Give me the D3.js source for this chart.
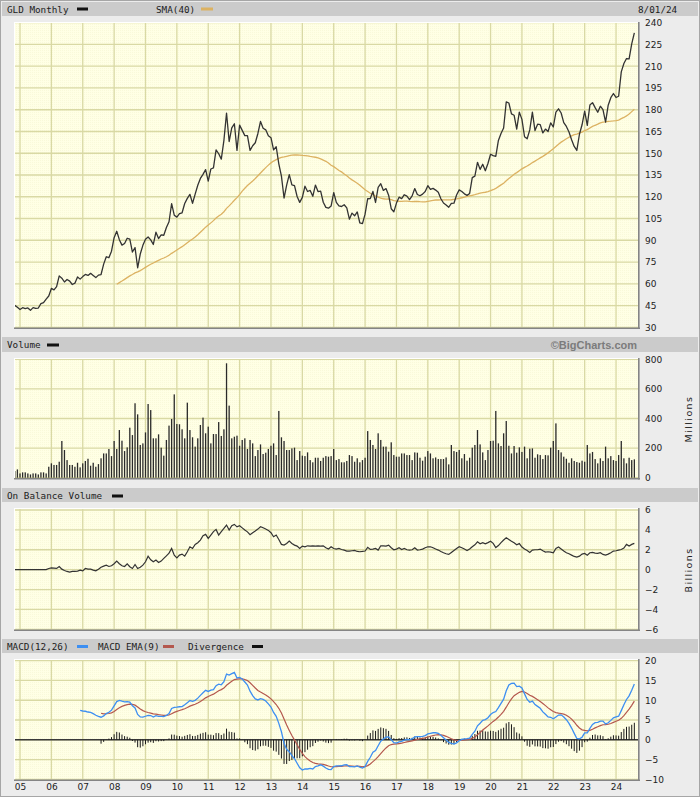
<!DOCTYPE html>
<html><head><meta charset="utf-8">
<script src="https://cdn.jsdelivr.net/npm/d3@7/dist/d3.min.js"></script>
<style>html,body{margin:0;padding:0;background:#ececec}svg{display:block}</style>
</head><body>
<svg id="chart" width="700" height="797"></svg>
<script>
// ---- DATA (monthly, starting Nov 2004) ----
const startYear = 2004, startMonth = 10; // 0-based month -> November
const prices = [
  45.12, 43.80,
  42.22, 43.52, 42.82, 43.35, 41.70, 43.56, 42.98, 43.28, 46.28, 46.97, 49.37, 51.58,
  56.80, 55.81, 58.06, 65.46, 63.84, 61.23, 62.94, 61.86, 59.50, 60.40, 64.75, 63.21,
  64.95, 66.45, 65.74, 67.18, 65.71, 64.26, 65.97, 66.38, 73.56, 78.65, 77.97, 82.46,
  91.75, 96.21, 90.41, 86.67, 87.82, 91.40, 90.72, 81.89, 84.92, 71.03, 80.53, 86.52,
  90.68, 92.27, 90.27, 87.12, 95.58, 91.18, 93.66, 93.46, 98.85, 102.76, 115.21, 107.31,
  105.96, 108.35, 108.95, 115.36, 118.88, 121.68, 115.49, 121.77, 127.91, 132.62, 135.42, 138.72,
  130.82, 139.13, 139.86, 152.37, 149.64, 145.96, 158.91, 177.72, 158.07, 167.48, 170.30, 151.99,
  169.40, 165.74, 162.12, 162.19, 151.98, 155.18, 157.25, 163.64, 171.89, 167.25, 166.12, 162.02,
  160.73, 152.32, 154.46, 142.73, 134.25, 119.11, 127.98, 135.27, 128.18, 127.74, 120.19, 116.12,
  119.57, 127.25, 123.61, 124.34, 120.29, 128.04, 123.61, 123.86, 116.21, 112.66, 112.11, 113.58,
  122.91, 116.16, 113.65, 113.29, 114.51, 112.37, 104.55, 108.73, 106.86, 109.51, 101.92, 101.46,
  107.98, 118.64, 118.81, 123.65, 116.06, 126.47, 128.98, 124.37, 125.64, 121.07, 111.75, 109.61,
  115.62, 119.70, 118.72, 121.40, 120.47, 118.02, 120.60, 125.63, 121.58, 120.67, 121.83, 123.65,
  127.64, 125.06, 125.79, 124.59, 123.09, 118.65, 115.71, 114.37, 112.76, 115.41, 115.54, 121.25,
  124.75, 123.65, 122.01, 120.95, 122.31, 133.20, 134.20, 143.76, 138.87, 142.41, 137.93, 142.90,
  149.33, 148.38, 147.84, 158.80, 163.66, 167.37, 185.43, 184.65, 177.12, 176.22, 166.67, 178.36,
  173.34, 161.38, 159.96, 166.09, 178.38, 165.63, 170.04, 169.70, 164.00, 166.65, 165.00, 170.96,
  168.09, 178.38, 180.65, 177.73, 171.14, 168.46, 164.68, 159.27, 154.67, 151.91, 163.10, 169.64,
  179.10, 169.16, 183.22, 184.91, 181.45, 178.27, 182.41, 180.00, 171.45, 183.12, 188.31, 191.17,
  188.45, 189.31, 206.06, 211.87, 215.30, 215.01, 225.34, 233.00
];
// volume, millions of shares
const volumes = [
  45, 56,
  29, 36, 36, 29, 22, 29, 29, 22, 36, 36, 29, 74,
  97, 86, 86, 108, 248, 187, 119, 86, 86, 74, 101, 70,
  97, 113, 128, 81, 101, 74, 92, 131, 164, 164, 194, 146,
  248, 194, 322, 250, 180, 205, 338, 288, 503, 428, 221, 232,
  306, 498, 457, 266, 266, 293, 203, 149, 255, 352, 397, 563,
  363, 361, 327, 266, 507, 322, 273, 210, 266, 356, 406, 300,
  345, 232, 295, 295, 376, 282, 327, 773, 487, 266, 277, 284,
  216, 255, 266, 194, 255, 232, 146, 187, 225, 160, 169, 194,
  216, 232, 153, 451, 273, 248, 187, 187, 198, 203, 119, 180,
  149, 146, 171, 119, 104, 135, 135, 113, 135, 146, 142, 146,
  194, 119, 126, 104, 104, 113, 153, 146, 108, 131, 104, 119,
  135, 315, 255, 221, 194, 300, 255, 210, 210, 176, 239, 153,
  142, 142, 164, 164, 153, 153, 119, 171, 169, 135, 115, 142,
  180, 164, 131, 137, 126, 126, 126, 137, 90, 221, 180, 174,
  187, 131, 160, 115, 135, 203, 221, 322, 225, 171, 119, 187,
  248, 250, 451, 232, 214, 300, 383, 216, 164, 214, 169, 205,
  174, 210, 131, 196, 198, 135, 158, 153, 126, 153, 151, 203,
  248, 367, 187, 171, 142, 128, 101, 131, 113, 106, 101, 115,
  108, 221, 164, 174, 126, 97, 131, 113, 210, 131, 146, 119,
  113, 153, 248, 131, 97, 135, 119, 124
];
// on balance volume, billions
const obv = [
  0, 0,
  0, 0, 0, 0, 0, 0, 0, 0, 0, 0, 0, 0.12,
  0.18, 0.15, 0.12, 0.32, 0.05, -0.08, -0.18, -0.25, -0.18, -0.18, -0.15, -0.05,
  -0.12, 0.12, 0.05, 0.05, -0.05, -0.12, 0.05, 0.25, 0.35, 0.45, 0.32, 0.39,
  0.59, 0.86, 0.59, 0.39, 0.32, 0.59, 0.29, 0.12, 0.52, 0.12, 0.25, 0.45,
  0.79, 1.36, 0.99, 0.79, 0.96, 0.72, 0.86, 1.13, 1.39, 1.66, 2.13, 1.46,
  1.19, 1.46, 1.56, 1.36, 1.80, 2.30, 2.13, 2.54, 2.71, 2.97, 3.41, 3.55,
  3.14, 3.48, 3.82, 4.05, 3.48, 3.82, 4.15, 4.49, 3.98, 4.42, 4.55, 4.30,
  4.42, 4.20, 3.98, 3.80, 3.52, 3.71, 3.88, 4.08, 4.32, 4.22, 4.08, 3.95,
  3.71, 3.31, 3.48, 3.04, 2.54, 2.47, 2.64, 2.87, 2.64, 2.47, 2.37, 2.13,
  2.37, 2.30, 2.40, 2.37, 2.40, 2.37, 2.40, 2.37, 2.40, 2.20, 2.07, 2.30,
  2.13, 2.07, 2.13, 2.03, 1.97, 1.87, 1.87, 1.90, 1.93, 1.83, 1.80, 1.83,
  1.87, 2.24, 2.03, 2.07, 2.13, 1.97, 2.40, 2.40, 2.37, 2.47, 2.20, 2.00,
  2.07, 2.20, 2.03, 2.13, 2.00, 1.97, 2.00, 2.20, 1.97, 2.00, 2.07, 2.20,
  2.30, 2.30, 2.20, 2.07, 1.97, 1.83, 1.70, 1.60, 1.53, 1.73, 1.93, 2.13,
  2.30, 2.20, 2.07, 1.93, 2.07, 2.30, 2.50, 2.80, 2.60, 2.72, 2.60, 2.72,
  2.85, 2.64, 2.22, 2.42, 2.72, 2.98, 3.20, 3.04, 2.85, 2.70, 2.50, 2.62,
  2.27, 2.07, 1.93, 1.73, 1.97, 2.00, 2.00, 2.07, 1.90, 1.76, 1.80, 1.76,
  1.70, 2.13, 2.27, 2.07, 1.87, 1.70, 1.60, 1.46, 1.33, 1.26, 1.36, 1.56,
  1.63, 1.46, 1.70, 1.73, 1.66, 1.63, 1.70, 1.53, 1.46, 1.56, 1.70, 1.87,
  1.90, 1.97, 2.03, 2.17, 2.54, 2.37, 2.54, 2.64
];
const priceTicks = [30, 45, 60, 75, 90, 105, 120, 135, 150, 165, 180, 195, 210, 225, 240];
const volumeTicks = [0, 200, 400, 600, 800];
const obvTicks = [-6, -4, -2, 0, 2, 4, 6];
const macdTicks = [-10, -5, 0, 5, 10, 15, 20];
const yearLabels = ["05","06","07","08","09","10","11","12","13","14","15","16","17","18","19","20","21","22","23","24"];
const smaPeriod = 40, macdFast = 12, macdSlow = 26, macdSig = 9;

// ---- derived indicators (computed from the price series) ----
function smaCalc(a, n){ return a.map((d,i)=> i < n-1 ? null : d3.mean(a.slice(i-n+1, i+1))); }
function emaCalc(a, n){
  const out = a.map(()=>null); const k = 2/(n+1);
  const first = a.findIndex(v=>v!=null); if (first < 0) return out;
  const s = first + n - 1; if (s >= a.length) return out;
  out[s] = d3.mean(a.slice(first, s+1));
  for (let i = s+1; i < a.length; i++) out[i] = a[i]*k + out[i-1]*(1-k);
  return out;
}
const sma = smaCalc(prices, smaPeriod);
const emaF = emaCalc(prices, macdFast), emaS = emaCalc(prices, macdSlow);
const macd = prices.map((d,i)=> emaS[i]==null ? null : emaF[i]-emaS[i]);
const signal = emaCalc(macd, macdSig);
const diverg = macd.map((d,i)=> signal[i]==null ? null : d - signal[i]);

// ---- layout ----
const W = 700, H = 797, L = 14, R = 638;
const svg = d3.select("#chart");
svg.append("rect").attr("width", W).attr("height", H).attr("fill", "#ececec");
svg.append("rect").attr("x",0.5).attr("y",0.5).attr("width",W-1).attr("height",H-1)
   .attr("fill","none").attr("stroke","#a6a6a6");

const defs = svg.append("defs");
const pat = defs.append("pattern").attr("id","tex").attr("width",2).attr("height",2)
  .attr("patternUnits","userSpaceOnUse");
pat.append("rect").attr("width",2).attr("height",2).attr("fill","#ffffe5");
pat.append("rect").attr("width",1).attr("height",1).attr("fill","#f9f9da");

const tIdx = i => i + (startYear-2005)*12 + startMonth; // months since Jan 2005
const x = d3.scaleLinear().domain([-2.3, 236.4]).range([L, R]);
const yearTs = d3.range(0, 20).map(k => k*12);

const panels = {
  price: {hdr:[2,16],   top:22,  bot:327.5, dom:[30,240], rng:[327.3,22.7], ticks:priceTicks},
  vol:   {hdr:[337,352],top:358, bot:478,   dom:[0,800],  rng:[477.7,359.3], ticks:volumeTicks},
  obv:   {hdr:[488,502],top:508, bot:629.5, dom:[-6,6],   rng:[629.3,510],   ticks:obvTicks},
  macd:  {hdr:[639,653],top:659, bot:779.5, dom:[-10,20], rng:[779.3,660.7], ticks:macdTicks}
};
const gridC = "#d9d9a4";
Object.entries(panels).forEach(([k,p])=>{
  p.y = d3.scaleLinear().domain(p.dom).range(p.rng);
  svg.append("rect").attr("x",2).attr("y",p.hdr[0]).attr("width",W-4).attr("height",p.hdr[1]-p.hdr[0]).attr("fill","#cbcbcb");
  const g = svg.append("g");
  g.append("rect").attr("x",L).attr("y",p.top).attr("width",R-L).attr("height",p.bot-p.top).attr("fill","url(#tex)");
  g.selectAll("line.hg").data(p.ticks).join("line").attr("class","hg")
    .attr("x1",L).attr("x2",R).attr("y1",d=>p.y(d)).attr("y2",d=>p.y(d))
    .attr("stroke",gridC).attr("stroke-width",1.3);
  g.selectAll("line.vg").data(yearTs).join("line").attr("class","vg")
    .attr("x1",d=>x(d)).attr("x2",d=>x(d)).attr("y1",p.top).attr("y2",p.bot)
    .attr("stroke",gridC).attr("stroke-width",1.3);
  defs.append("clipPath").attr("id","clip-"+k).append("rect")
    .attr("x",L).attr("y",p.top).attr("width",R-L).attr("height",p.bot-p.top);
  p.data = svg.append("g").attr("clip-path",`url(#clip-${k})`);
  p.edges = svg.append("g");
  p.edges.append("line").attr("x1",L).attr("x2",R).attr("y1",p.top+0.5).attr("y2",p.top+0.5).attr("stroke","#ffffff").attr("stroke-width",1);
  p.edges.append("line").attr("x1",L+0.5).attr("x2",L+0.5).attr("y1",p.top).attr("y2",p.bot).attr("stroke","#ffffff").attr("stroke-width",1);
  p.edges.append("line").attr("x1",L).attr("x2",R+2).attr("y1",p.bot+0.8).attr("y2",p.bot+0.8).attr("stroke","#858585").attr("stroke-width",1.6);
  p.edges.append("line").attr("x1",R+0.8).attr("x2",R+0.8).attr("y1",p.top).attr("y2",p.bot+1.6).attr("stroke","#858585").attr("stroke-width",1.6);
  const ax = svg.append("g").attr("transform",`translate(${R},0)`)
    .call(d3.axisRight(p.y).tickValues(p.ticks).tickSize(0).tickPadding(7));
  ax.select(".domain").remove();
  ax.attr("font-family","DejaVu Sans").attr("font-size",9).attr("color","#222");
});

// x axis year labels
const xa = svg.append("g").attr("transform",`translate(0,${panels.macd.bot})`)
  .call(d3.axisBottom(x).tickValues(yearTs).tickFormat((d,i)=>yearLabels[i]).tickSize(0).tickPadding(4.6));
xa.select(".domain").remove();
xa.attr("font-family","DejaVu Sans").attr("font-size",9).attr("color","#222");

// ---- header texts ----
function hText(xp, yp, t){ svg.append("text").attr("x",xp).attr("y",yp)
  .attr("font-family","DejaVu Sans Mono").attr("font-size",9.3).attr("fill","#1c1c1c").text(t); }
function sw(xp, yp, w, c){ svg.append("rect").attr("x",xp).attr("y",yp).attr("width",w).attr("height",3).attr("fill",c); }
const cPrice = "#333333", cSma = "#dcb262", cMacd = "#3d8ff2", cEma = "#b4584e";
hText(7,13,"GLD Monthly"); sw(77,7.5,11,"#111");
hText(156,13,"SMA(40)"); sw(201,7.5,12,cSma);
hText(638,12.5,"8/01/24");
hText(7,348,"Volume"); sw(47,343.5,12,"#111");
svg.append("text").attr("x",637).attr("y",348.5).attr("text-anchor","end")
  .attr("font-family","Liberation Sans").attr("font-weight","bold").attr("font-size",11)
  .attr("fill","#7c7c7c").text("\u00A9BigCharts.com");
hText(7,499,"On Balance Volume"); sw(112,494.5,11,"#111");
hText(7,650,"MACD(12,26)"); sw(77,645,11,cMacd);
hText(98,650,"MACD EMA(9)"); sw(163,645,11,cEma);
hText(188,650,"Divergence"); sw(252,645,11,"#111");

function sideLabel(cx, cy, t){
  svg.append("text").attr("transform",`translate(${cx},${cy}) rotate(-90)`)
    .attr("text-anchor","middle").attr("dy","0.35em").attr("font-family","DejaVu Sans")
    .attr("font-size",9.5).attr("letter-spacing",1.4).attr("fill","#222").text(t);
}
sideLabel(689,419,"Millions");
sideLabel(689,570,"Billions");

// ---- series ----
const idx = d3.range(prices.length);
function lineFor(p, arr){
  return d3.line().defined(i=>arr[i]!=null).x(i=>x(tIdx(i))).y(i=>p.y(arr[i]))(idx);
}
const P = panels.price;
P.data.append("path").attr("d",lineFor(P,sma)).attr("fill","none").attr("stroke",cSma).attr("stroke-width",1.3);
P.data.append("path").attr("d",lineFor(P,prices)).attr("fill","none").attr("stroke",cPrice).attr("stroke-width",1.3).attr("stroke-linejoin","round");

const V = panels.vol;
V.data.selectAll("rect.vb").data(idx).join("rect").attr("class","vb")
  .attr("x",i=>x(tIdx(i))-0.65).attr("width",1.3)
  .attr("y",i=>V.y(volumes[i])).attr("height",i=>V.y(0)-V.y(volumes[i]))
  .attr("fill","#2a2a2a");

const O = panels.obv;
O.data.append("path").attr("d",lineFor(O,obv)).attr("fill","none").attr("stroke","#333").attr("stroke-width",1.2);

const M = panels.macd;
M.data.append("line").attr("x1",L).attr("x2",R).attr("y1",M.y(0)).attr("y2",M.y(0)).attr("stroke","#3a3a3a").attr("stroke-width",1.4);
M.data.selectAll("line.dv").data(idx.filter(i=>diverg[i]!=null)).join("line").attr("class","dv")
  .attr("x1",i=>x(tIdx(i))).attr("x2",i=>x(tIdx(i)))
  .attr("y1",M.y(0)).attr("y2",i=>M.y(diverg[i]))
  .attr("stroke","#1a1a1a").attr("stroke-width",1);
M.data.append("path").attr("d",lineFor(M,signal)).attr("fill","none").attr("stroke",cEma).attr("stroke-width",1.2);
M.data.append("path").attr("d",lineFor(M,macd)).attr("fill","none").attr("stroke",cMacd).attr("stroke-width",1.3);
</script>
</body></html>
